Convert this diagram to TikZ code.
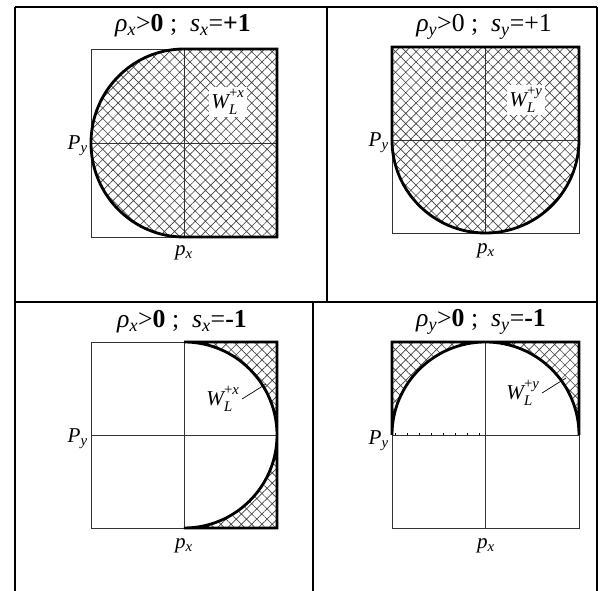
\documentclass[tikz,border=0pt]{standalone}
\usepackage{fontspec}
\setmainfont{Liberation Serif}
\usetikzlibrary{patterns.meta}

\newcommand{\subx}[1]{\textsubscript{\itshape #1}}
\newcommand{\wzone}[1]{W\rlap{\raisebox{-0.35ex}{\textsubscript{L}}}\raisebox{0.3ex}{\textsuperscript{\upshape+\itshape #1}}}

\begin{document}
\begin{tikzpicture}[
    x=0.03cm, y=0.03cm,
    grid_line/.style={line width=1.7pt},
    box_line/.style={line width=0.8pt, draw=black!80},
    rim_line/.style={line width=2.4pt},
    hatch_fill/.style={pattern={Hatch[angle=45, distance=6.2pt, line width=0.55pt]}, pattern color=black!75},
    title_text/.style={font=\fontsize{22}{24}\selectfont, inner sep=0pt},
    axis_text/.style={font=\fontsize{18}{20}\selectfont\itshape, inner sep=0pt},
    zone_text/.style={font=\fontsize{18}{20}\selectfont\itshape, inner sep=2pt},
    lead_line/.style={line width=0.6pt}
]
\useasboundingbox (0,0) rectangle (606,591);

% Table
\draw[grid_line] (15,584) -- (597,584);
\draw[grid_line] (15,289) -- (597,289);
\draw[grid_line] (15,584) -- (15,0);
\draw[grid_line] (327,584) -- (327,289);
\draw[grid_line] (313,289) -- (313,0);
\draw[grid_line] (597,584) -- (597,0);

% Panel rho_x > 0, s_x = +1
\fill[hatch_fill] (184,542) arc[start angle=90, end angle=270, x radius=93, y radius=94] -- (277,354) -- (277,542) -- cycle;
\draw[box_line] (91,354) rectangle (277,542);
\draw[box_line] (184,354) -- (184,542);
\draw[box_line] (91,448) -- (277,448);
\draw[rim_line] (184,542) arc[start angle=90, end angle=270, x radius=93, y radius=94] -- (277,354) -- (277,542) -- cycle;
\node[zone_text, fill=white] (w1) at (228,489) {\wzone{x}};

% Panel rho_y > 0, s_y = +1
\fill[hatch_fill] (392,451) -- (392,544) -- (579,544) -- (579,451) arc[start angle=0, end angle=-180, x radius=93.5, y radius=93] -- cycle;
\draw[box_line] (392,358) rectangle (579,544);
\draw[box_line] (485.5,358) -- (485.5,544);
\draw[box_line] (392,451) -- (579,451);
\draw[rim_line] (392,451) -- (392,544) -- (579,544) -- (579,451) arc[start angle=0, end angle=-180, x radius=93.5, y radius=93];
\node[zone_text, fill=white] (w2) at (526,491) {\wzone{y}};

% Panel rho_x > 0, s_x = -1
\fill[hatch_fill] (184,249) -- (277,249) -- (277,63) -- (184,63) arc[start angle=-90, end angle=90, x radius=93, y radius=93] -- cycle;
\draw[box_line] (91,63) rectangle (277,249);
\draw[box_line] (184,63) -- (184,249);
\draw[box_line] (91,156) -- (277,156);
\draw[rim_line] (184,249) -- (277,249) -- (277,63) -- (184,63) arc[start angle=-90, end angle=90, x radius=93, y radius=93];
\node[zone_text] (w3) at (223,192) {\wzone{x}};
\coordinate (lead3) at (266,207);
\draw[lead_line] (w3.east) -- (lead3);

% Panel rho_y > 0, s_y = -1
\fill[hatch_fill] (392,156) -- (392,249) -- (579,249) -- (579,156) arc[start angle=0, end angle=180, x radius=93.5, y radius=93] -- cycle;
\draw[box_line] (392,63) rectangle (579,249);
\draw[box_line] (485.5,63) -- (485.5,249);
\draw[box_line] (392,156) -- (579,156);
\draw[rim_line] (392,156) -- (392,249) -- (579,249) -- (579,156) arc[start angle=0, end angle=180, x radius=93.5, y radius=93];
\draw[line width=1.2pt, dash pattern=on 1.2pt off 9pt] (395,157) -- (485,157);
\node[zone_text] (w4) at (523,198) {\wzone{y}};
\coordinate (lead4) at (566,213);
\draw[lead_line] (w4.east) -- (lead4);

% Titles
\node[title_text] (t1) at (183,565) {{\itshape ρ}\subx{x}>\textbf{0} ;\ \ {\itshape s}\subx{x}=\textbf{+1}};
\node[title_text] (t2) at (484,564) {{\itshape ρ}\subx{y}>0 ;\ \ {\itshape s}\subx{y}=+1};
\node[title_text] (t3) at (182,269) {{\itshape ρ}\subx{x}>\textbf{0} ;\ \ {\itshape s}\subx{x}=\textbf{-1}};
\node[title_text] (t4) at (481,269) {{\itshape ρ}\subx{y}>\textbf{0} ;\ \ {\itshape s}\subx{y}=\textbf{-1}};

% Axis labels
\node[axis_text, anchor=east] (py1) at (88,445) {P\subx{y}};
\node[axis_text, anchor=east] (py2) at (389,448) {P\subx{y}};
\node[axis_text, anchor=east] (py3) at (88,152) {P\subx{y}};
\node[axis_text, anchor=east] (py4) at (389,150) {P\subx{y}};
\node[axis_text] (px1) at (184,338) {p\subx{x}};
\node[axis_text] (px2) at (486,340) {p\subx{x}};
\node[axis_text] (px3) at (184,45) {p\subx{x}};
\node[axis_text] (px4) at (486,45) {p\subx{x}};

\end{tikzpicture}
\end{document}
